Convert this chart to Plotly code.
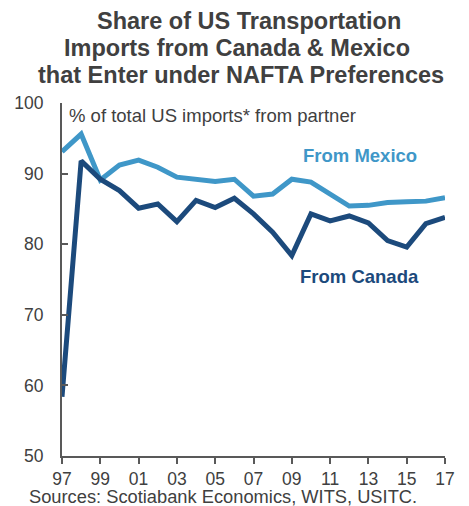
import plotly.graph_objects as go

years = list(range(1997, 2018))
mexico = [93.1, 95.6, 89.1, 91.2, 91.9, 90.9, 89.5, 89.2, 88.9, 89.2, 86.8,
          87.1, 89.2, 88.8, 87.0, 85.4, 85.5, 85.9, 86.0, 86.1, 86.6]
canada = [58.4, 91.8, 89.2, 87.6, 85.1, 85.7, 83.2, 86.2, 85.2, 86.5, 84.3,
          81.7, 78.4, 84.3, 83.3, 84.0, 83.0, 80.5, 79.6, 82.9, 83.8]
x_tick_vals = list(range(1997, 2018, 2))
x_tick_text = ["97", "99", "01", "03", "05", "07", "09", "11", "13", "15", "17"]
y_tick_vals = [50, 60, 70, 80, 90, 100]
title_lines = ["Share of US Transportation", "Imports from Canada & Mexico",
               "that Enter under NAFTA Preferences"]

MEX = "#3F97C8"
CAN = "#1C4A7C"
GREY = "#404040"
FONT = "Liberation Sans, Arial, sans-serif"

PLOT_TOP, PLOT_BOTTOM, PLOT_LEFT, PLOT_RIGHT = 103, 456, 62, 445
PH = PLOT_BOTTOM - PLOT_TOP
PW = PLOT_RIGHT - PLOT_LEFT


def py(px):
    return (PLOT_BOTTOM - px) / PH


def pxx(px):
    return (px - PLOT_LEFT) / PW


fig = go.Figure()
fig.add_trace(go.Scatter(x=years, y=mexico, mode="lines", line=dict(color=MEX, width=5),
                         name="From Mexico", showlegend=False))
fig.add_trace(go.Scatter(x=years, y=canada, mode="lines", line=dict(color=CAN, width=5),
                         name="From Canada", showlegend=False))

annotations = []
title_centers = [(249, 21), (237, 48), (241, 75)]
for line, (cx, cy) in zip(title_lines, title_centers):
    annotations.append(dict(text=line, xref="paper", yref="paper", x=pxx(cx), y=py(cy),
                            xanchor="center", yanchor="middle", showarrow=False,
                            font=dict(size=23.5, color=GREY, weight="bold")))
annotations += [
    dict(text="% of total US imports* from partner", xref="paper", yref="paper",
         x=pxx(67), y=py(115), xanchor="left", yanchor="middle", showarrow=False,
         font=dict(size=18.5, color=GREY)),
    dict(text="From Mexico", xref="x", yref="y", x=2012.56, y=92.6, xanchor="center",
         yanchor="middle", showarrow=False, font=dict(size=18.5, color=MEX, weight="bold")),
    dict(text="From Canada", xref="x", yref="y", x=2012.56, y=75.4, xanchor="center",
         yanchor="middle", showarrow=False, font=dict(size=18.5, color=CAN, weight="bold")),
    dict(text="Sources: Scotiabank Economics, WITS, USITC.", xref="paper", yref="paper",
         x=pxx(27), y=py(496), xanchor="left", yanchor="middle",
         showarrow=False, font=dict(size=18.3, color=GREY)),
]

fig.update_layout(
    width=469, height=506,
    margin=dict(l=PLOT_LEFT, r=469 - PLOT_RIGHT, t=PLOT_TOP, b=506 - PLOT_BOTTOM),
    paper_bgcolor="white", plot_bgcolor="white",
    font=dict(family=FONT, color=GREY, size=17.5),
    xaxis=dict(range=[1997, 2017], tickvals=x_tick_vals, ticktext=x_tick_text,
               showgrid=False, zeroline=False, showline=True, linecolor="#595959", linewidth=2,
               ticks="outside", ticklen=6, tickwidth=2, tickcolor="#595959",
               tickfont=dict(size=17.5, color=GREY)),
    yaxis=dict(range=[50, 100], tickvals=y_tick_vals, ticklabelstandoff=13,
               showgrid=False, zeroline=False, showline=True, linecolor="#595959", linewidth=2,
               ticks="inside", ticklen=6, tickwidth=2, tickcolor="#595959",
               tickfont=dict(size=17.5, color=GREY)),
    annotations=annotations,
)

fig.write_html("out.html")
